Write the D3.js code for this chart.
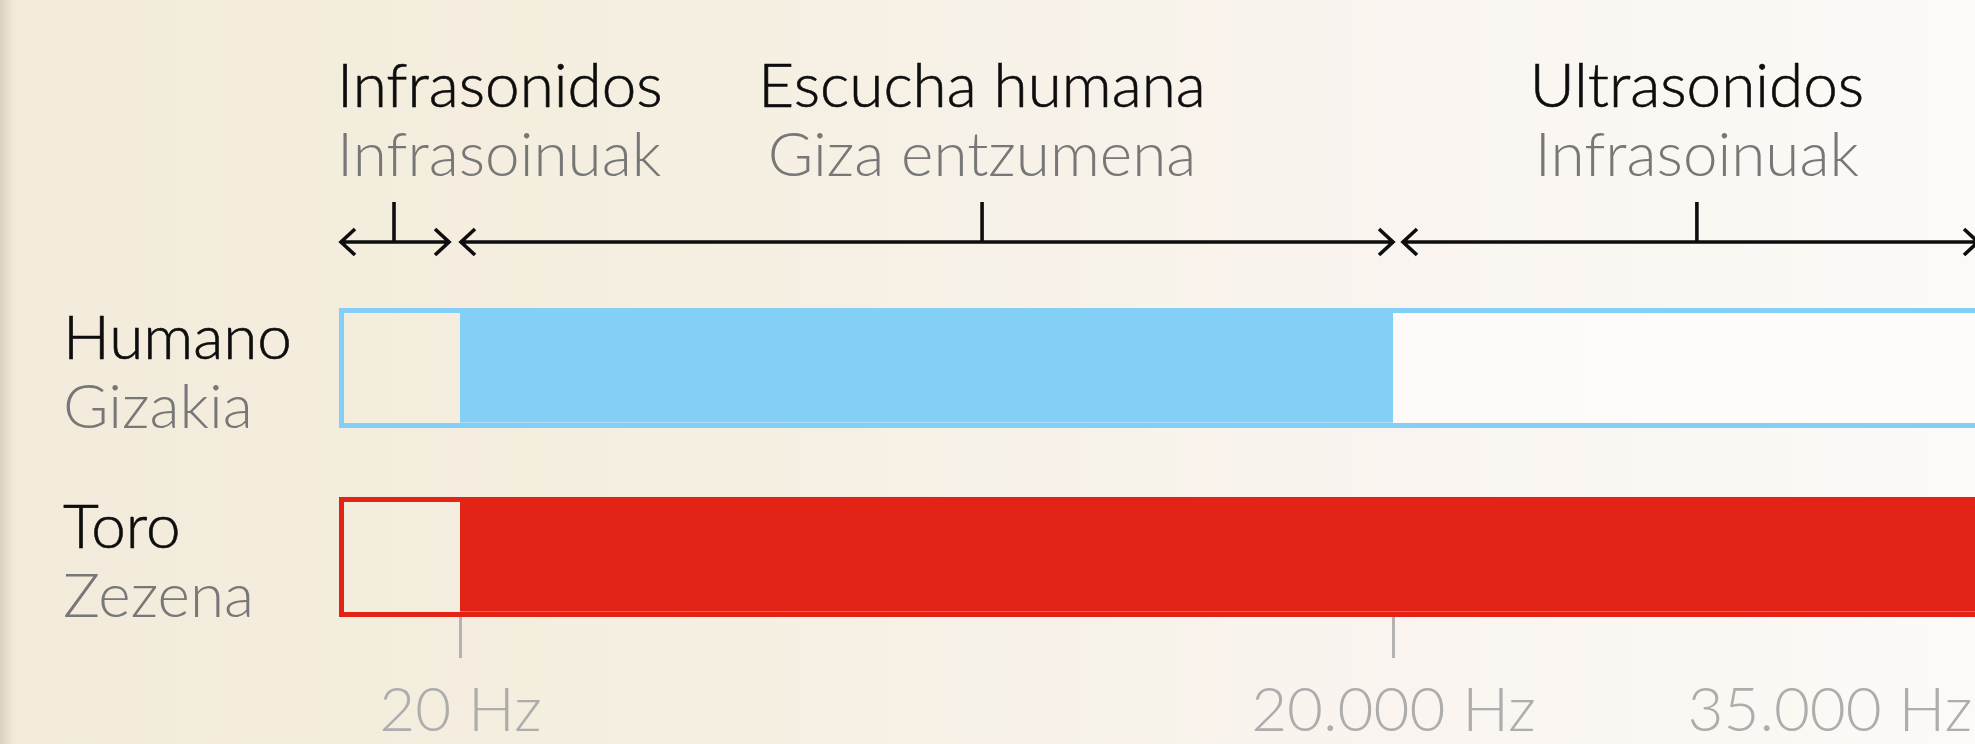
<!DOCTYPE html>
<html>
<head>
<meta charset="utf-8">
<script src="https://cdn.jsdelivr.net/npm/d3@7"></script>
<style>
  html, body { margin: 0; padding: 0; overflow: hidden; }
  svg { display: block; font-family: Lato, "Noto Sans", sans-serif; }
</style>
</head>
<body>
<div id="chart"></div>
<script>
// hearing ranges, Spanish / Basque labels
const species = ["Humano", "Toro"];
const speciesEu = ["Gizakia", "Zezena"];
const hearingMin = [20, 20];
const hearingMax = [20000, 35000];
const speciesColor = ["#84cff5", "#e32315"];

const bandEs = ["Infrasonidos", "Escucha humana", "Ultrasonidos"];
const bandEu = ["Infrasoinuak", "Giza entzumena", "Infrasoinuak"];
const bandFrom = [0, 20, 20000];
const bandTo = [20, 20000, 35000];
const bandTickHz = [9, 11200, 27700];

const tickValues = [20, 20000, 35000];
const tickLabels = ["20 Hz", "20.000 Hz", "35.000 Hz"];

var w = 1975, h = 744;
var fontSize = 62;
var weight = 300;

var svg = d3.select("#chart")
    .append("svg")
    .attr("width", w)
    .attr("height", h);

// paper background
var defs = svg.append("defs");
var bg = defs.append("linearGradient")
    .attr("id", "bg")
    .attr("gradientUnits", "userSpaceOnUse")
    .attr("x1", 0).attr("x2", w)
    .attr("y1", 0).attr("y2", 0);
bg.append("stop").attr("offset", "0%").attr("stop-color", "#f2ebdb");
bg.append("stop").attr("offset", "35%").attr("stop-color", "#f5efe1");
bg.append("stop").attr("offset", "70%").attr("stop-color", "#f9f4ef");
bg.append("stop").attr("offset", "100%").attr("stop-color", "#fcfaf7");
var edge = defs.append("linearGradient").attr("id", "edge");
edge.append("stop").attr("offset", "0%").attr("stop-color", "#a79e8c").attr("stop-opacity", 0.35);
edge.append("stop").attr("offset", "100%").attr("stop-color", "#a79e8c").attr("stop-opacity", 0);

svg.append("rect").attr("width", w).attr("height", h).attr("fill", "url(#bg)");
svg.append("rect").attr("width", 14).attr("height", h).attr("fill", "url(#edge)");

// piecewise scale, the picture is not to scale
var x = d3.scaleLinear()
    .domain([0, 20, 20000, 35000])
    .range([340, 460, 1393, 1985]);

var y = d3.scaleBand()
    .domain(species)
    .range([308, 617])
    .paddingInner(0.365)
    .paddingOuter(0);

var border = 5;

// bands header: arrows + labels
var arrowY = 242;
var band = svg.append("g")
    .selectAll(".band")
    .data(bandEs.map((d, i) => ({ es: d, eu: bandEu[i], from: bandFrom[i], to: bandTo[i], tick: bandTickHz[i], i: i })))
    .enter()
    .append("g")
    .classed("band", true);

function arrowEnds(d) {
    var x0 = x(d.from) + 1, x1 = x(d.to);
    if (d.i == 0) x1 -= 11;
    if (d.i == 2) { x0 += 9; x1 -= 7; }
    return [x0, x1];
}

band.append("path")
    .attr("d", d => {
        var [x0, x1] = arrowEnds(d);
        var hw = 13, dep = 14;
        return `M${x0},${arrowY}H${x1}` +
            `M${x0 + dep},${arrowY - hw}L${x0},${arrowY}L${x0 + dep},${arrowY + hw}` +
            `M${x1 - dep},${arrowY - hw}L${x1},${arrowY}L${x1 - dep},${arrowY + hw}`;
    })
    .attr("fill", "none")
    .attr("stroke", "#0d0d0d")
    .attr("stroke-width", 3.6);

band.append("line")
    .attr("x1", d => x(d.tick))
    .attr("x2", d => x(d.tick))
    .attr("y1", 202)
    .attr("y2", arrowY)
    .attr("stroke", "#0d0d0d")
    .attr("stroke-width", 3.6);

band.append("text")
    .attr("x", d => d.i == 0 ? x(d.from) - 3 : x(d.tick))
    .attr("y", 107)
    .attr("text-anchor", d => d.i == 0 ? "start" : "middle")
    .attr("font-size", fontSize)
    .attr("font-weight", weight)
    .attr("fill", "#0d0d0d")
    .style("stroke", "#0d0d0d")
    .style("stroke-width", 0.6)
    .text(d => d.es);

band.append("text")
    .attr("x", d => d.i == 0 ? x(d.from) - 3 : x(d.tick))
    .attr("y", 176)
    .attr("text-anchor", d => d.i == 0 ? "start" : "middle")
    .attr("font-size", fontSize)
    .attr("font-weight", weight)
    .attr("fill", "#777")
    .text(d => d.eu);

// species bars
var rows = species.map((d, i) => ({ name: d, eu: speciesEu[i], min: hearingMin[i], max: hearingMax[i], color: speciesColor[i] }));

var row = svg.append("g")
    .selectAll(".row")
    .data(rows)
    .enter()
    .append("g")
    .classed("row", true);

// white inside of the bar
row.append("rect")
    .attr("x", x(0) + border)
    .attr("y", d => y(d.name) + border)
    .attr("width", w)
    .attr("height", y.bandwidth() - 2 * border)
    .attr("fill", "#fffefc")
    .attr("opacity", d => d.name == "Humano" ? 0.65 : 0);

// infrasound box shows the paper
row.append("rect")
    .attr("x", x(0) + border)
    .attr("y", d => y(d.name) + border)
    .attr("width", x(20) - x(0) - border)
    .attr("height", y.bandwidth() - 2 * border)
    .attr("fill", "url(#bg)");

row.append("rect")
    .attr("x", d => x(d.min))
    .attr("y", d => y(d.name) + border)
    .attr("width", d => x(d.max) - x(d.min))
    .attr("height", y.bandwidth() - 2 * border)
    .attr("fill", d => d.color);

row.append("line")
    .attr("x1", d => x(d.min))
    .attr("x2", d => x(d.max))
    .attr("y1", d => y(d.name) + y.bandwidth() - border - 0.5)
    .attr("y2", d => y(d.name) + y.bandwidth() - border - 0.5)
    .attr("stroke", "#fff")
    .attr("stroke-opacity", 0.3)
    .attr("stroke-width", 1);

row.append("rect")
    .attr("x", x(0) + border / 2 - 1)
    .attr("y", d => y(d.name) + border / 2)
    .attr("width", w)
    .attr("height", y.bandwidth() - border)
    .attr("fill", "none")
    .attr("stroke", d => d.color)
    .attr("stroke-width", border);

row.append("text")
    .attr("x", 63)
    .attr("y", d => y(d.name) + y.bandwidth() - 69)
    .attr("font-size", fontSize)
    .attr("font-weight", weight)
    .attr("fill", "#0d0d0d")
    .style("stroke", "#0d0d0d")
    .style("stroke-width", 0.6)
    .text(d => d.name);

row.append("text")
    .attr("x", 63)
    .attr("y", d => y(d.name) + y.bandwidth())
    .attr("font-size", fontSize)
    .attr("font-weight", weight)
    .attr("fill", "#777")
    .text(d => d.eu);

// frequency axis
var axis = d3.axisBottom(x)
    .tickValues(tickValues)
    .tickSize(41)
    .tickFormat((d, i) => tickLabels[i]);

var gx = svg.append("g")
    .attr("transform", `translate(0,${y.range()[1]})`)
    .call(axis);

gx.select(".domain").remove();
gx.selectAll(".tick line")
    .attr("stroke", "#b3b3b3")
    .attr("stroke-width", 3)
    .filter(d => d == 35000)
    .remove();
gx.selectAll(".tick text")
    .attr("y", 114)
    .attr("dy", 0)
    .attr("font-size", fontSize)
    .attr("font-weight", weight)
    .attr("font-family", "Lato, 'Noto Sans', sans-serif")
    .attr("fill", "#adadad")
    .filter(d => d == 35000)
    .attr("x", -298)
    .attr("text-anchor", "start");
</script>
</body>
</html>
